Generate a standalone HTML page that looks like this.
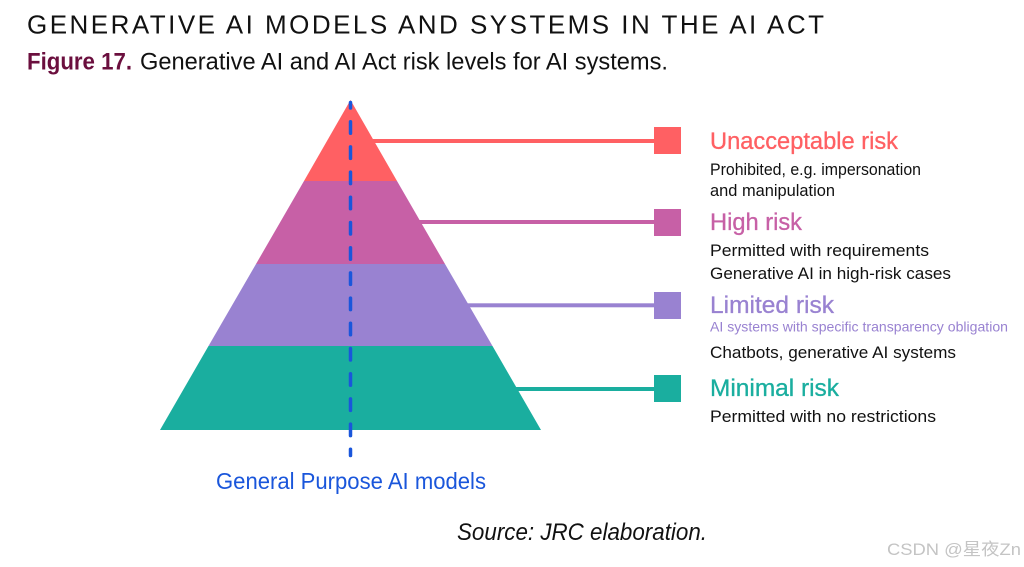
<!DOCTYPE html>
<html>
<head>
<meta charset="utf-8">
<style>
html,body{margin:0;padding:0;background:#fff;width:1024px;height:567px;overflow:hidden}
svg{display:block}
text{font-family:"Liberation Sans","Noto Sans CJK SC",sans-serif}
.d{font-size:17px;fill:#111}
.h{font-size:24px;stroke-width:.3px}
</style>
</head>
<body>
<svg width="1024" height="567" viewBox="0 0 1024 567" xmlns="http://www.w3.org/2000/svg">
<rect width="1024" height="567" fill="#fff"/>
<text x="27" y="33.500" font-size="26" fill="#111" textLength="797" lengthAdjust="spacing">GENERATIVE AI MODELS AND SYSTEMS IN THE AI ACT</text>
<text x="27" y="69.500" font-size="24" font-weight="bold" fill="#6b0f3e" textLength="105" lengthAdjust="spacingAndGlyphs">Figure 17.</text>
<text x="140" y="69.500" font-size="24" fill="#111" textLength="528" lengthAdjust="spacingAndGlyphs">Generative AI and AI Act risk levels for AI systems.</text>

<polygon points="350.5,100 397,181 304,181" fill="#ff6063"/>
<polygon points="304,181 397,181 445,264 256,264" fill="#c760a6"/>
<polygon points="256,264 445,264 492.5,346 208.5,346" fill="#9982d1"/>
<polygon points="208.5,346 492.5,346 541,430 160,430" fill="#1aae9f"/>

<rect x="373" y="139" width="281" height="4" fill="#ff6063"/>
<rect x="419" y="220" width="235" height="4" fill="#c760a6"/>
<rect x="467" y="303.300" width="187" height="4" fill="#9982d1"/>
<rect x="516" y="387" width="138" height="4" fill="#1aae9f"/>

<rect x="654" y="127" width="27" height="27" fill="#ff6063"/>
<rect x="654" y="209" width="27" height="27" fill="#c760a6"/>
<rect x="654" y="292" width="27" height="27" fill="#9982d1"/>
<rect x="654" y="375" width="27" height="27" fill="#1aae9f"/>

<line x1="350.500" y1="102.500" x2="350.500" y2="455.500" stroke="#1a56db" stroke-width="3.500" stroke-linecap="round" stroke-dasharray="11.500 13.700" stroke-dashoffset="6"/>

<text class="h" x="710" y="149" fill="#ff6063" stroke="#ff6063" textLength="188" lengthAdjust="spacingAndGlyphs">Unacceptable risk</text>
<text class="d" x="710" y="175" textLength="211" lengthAdjust="spacingAndGlyphs">Prohibited, e.g. impersonation</text>
<text class="d" x="710" y="196" textLength="125" lengthAdjust="spacingAndGlyphs">and manipulation</text>

<text class="h" x="710" y="230" fill="#c760a6" stroke="#c760a6" textLength="92" lengthAdjust="spacingAndGlyphs">High risk</text>
<text class="d" x="710" y="256" textLength="219" lengthAdjust="spacingAndGlyphs">Permitted with requirements</text>
<text class="d" x="710" y="279" textLength="241" lengthAdjust="spacingAndGlyphs">Generative AI in high-risk cases</text>

<text class="h" x="710" y="313" fill="#9982d1" stroke="#9982d1" textLength="124" lengthAdjust="spacingAndGlyphs">Limited risk</text>
<text x="710" y="331.500" font-size="14" fill="#9982d1" textLength="298" lengthAdjust="spacingAndGlyphs">AI systems with specific transparency obligation</text>
<text class="d" x="710" y="358" textLength="246" lengthAdjust="spacingAndGlyphs">Chatbots, generative AI systems</text>

<text class="h" x="710" y="396" fill="#1aae9f" stroke="#1aae9f" textLength="129" lengthAdjust="spacingAndGlyphs">Minimal risk</text>
<text class="d" x="710" y="422" textLength="226" lengthAdjust="spacingAndGlyphs">Permitted with no restrictions</text>

<text x="216" y="489" font-size="23" fill="#1a56db" textLength="270" lengthAdjust="spacingAndGlyphs">General Purpose AI models</text>
<text x="457" y="540" font-size="24" font-style="italic" fill="#111" textLength="250" lengthAdjust="spacingAndGlyphs">Source: JRC elaboration.</text>
<text x="887" y="555" font-size="17" fill="#c4c4c4" textLength="134" lengthAdjust="spacingAndGlyphs">CSDN @星夜Zn</text>
</svg>
</body>
</html>
